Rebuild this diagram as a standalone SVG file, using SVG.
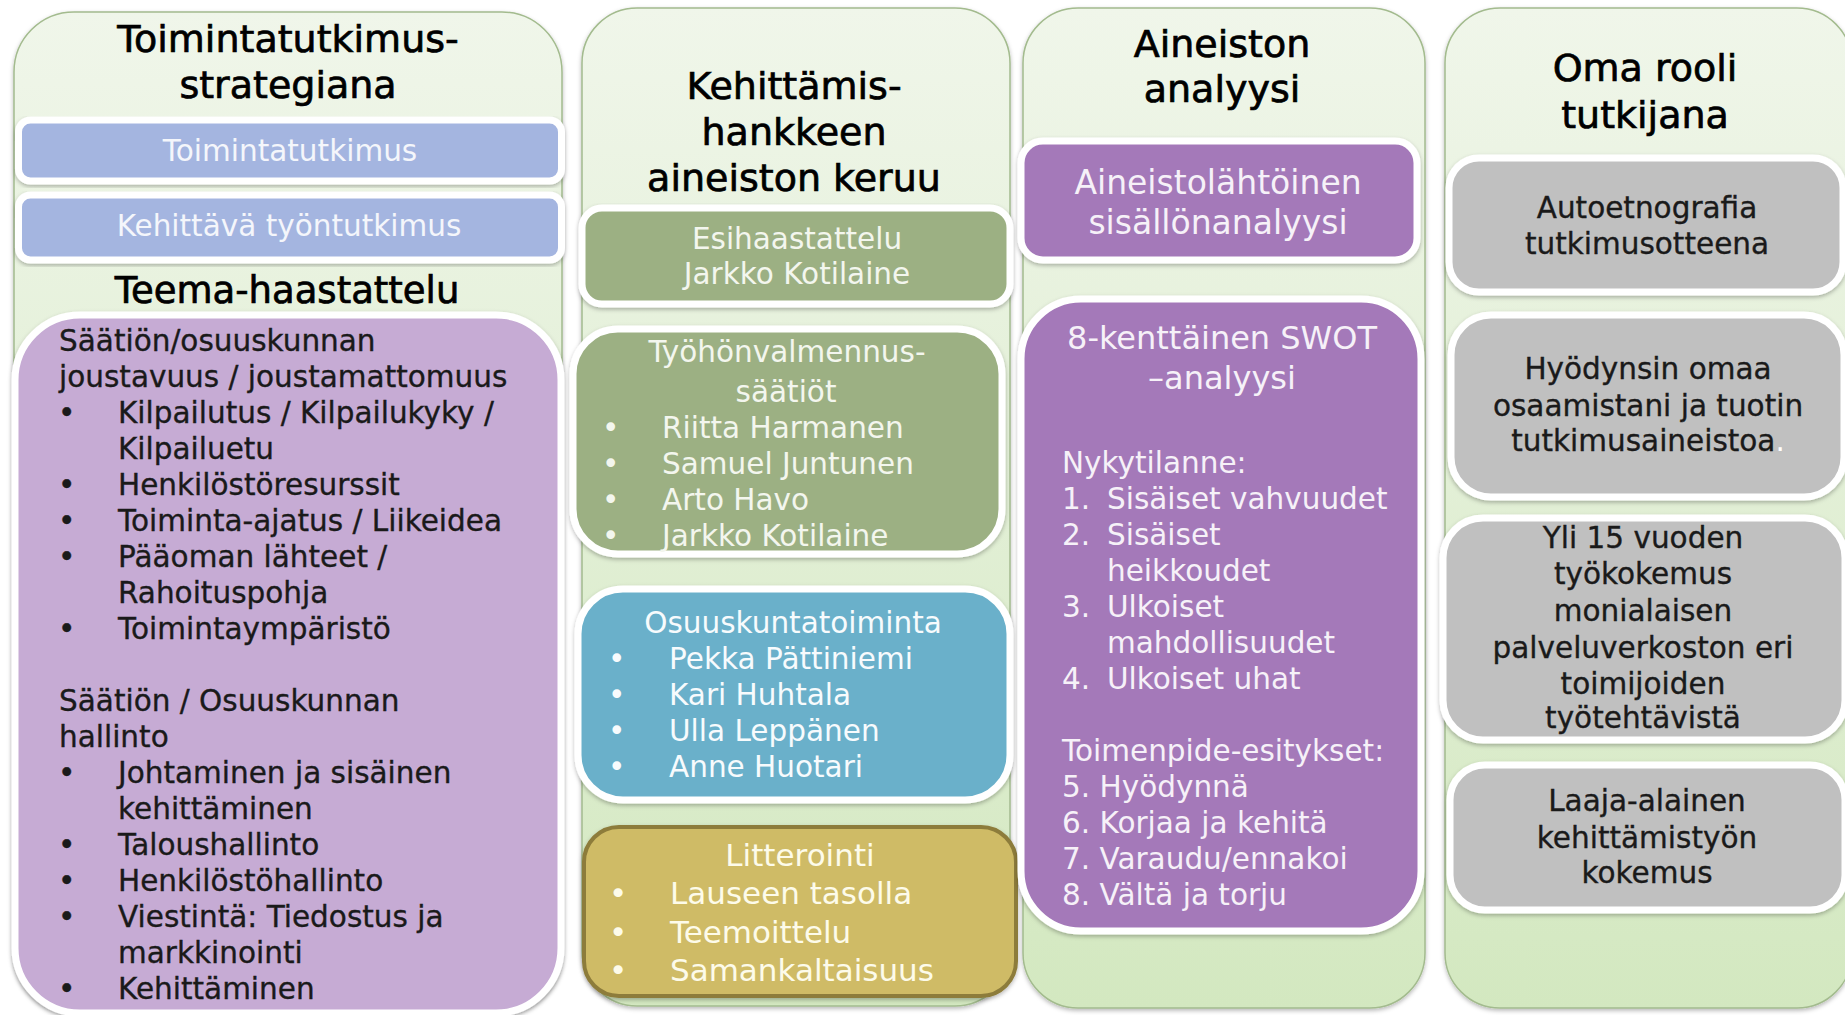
<svg xmlns="http://www.w3.org/2000/svg" width="1845" height="1015" viewBox="0 0 1845 1015">
<defs>
<linearGradient id="colGrad" x1="0" y1="0" x2="0" y2="1">
<stop offset="0" stop-color="#f0f6ea"/>
<stop offset="1" stop-color="#d3e8c0"/>
</linearGradient>
<filter id="sh" x="-5%" y="-5%" width="110%" height="115%">
<feDropShadow dx="0" dy="2" stdDeviation="2" flood-color="#000" flood-opacity="0.28"/>
</filter>
<style>
.col{fill:url(#colGrad);stroke:#a3bb8e;stroke-width:1.5;filter:url(#sh)}
.box{stroke:#ffffff;stroke-width:7;filter:url(#sh)}
text{font-family:"DejaVu Sans","Liberation Sans",sans-serif}
.title{font-size:38px;fill:#000;text-anchor:middle;stroke:#000;stroke-width:0.7}
.t{font-size:29.5px}
.c{text-anchor:middle}
.dark{fill:#1a1a1a;stroke:#1a1a1a;stroke-width:0.35}
.light{fill:#f4f6fb}
</style>
</defs>
<rect width="1845" height="1015" fill="#ffffff"/>

<g id="column1">
<rect class="col" x="14" y="12" width="548" height="1000" rx="60"/>
<text class="title" x="288" y="52">Toimintatutkimus-</text>
<text class="title" x="288" y="98">strategiana</text>
</g>
<g id="toimintatutkimus">
<rect class="box" x="18.5" y="120" width="543" height="61" rx="12" fill="#a4b5e0"/>
<text class="t c light" x="290" y="161">Toimintatutkimus</text>
</g>
<g id="kehittava-tyontutkimus">
<rect class="box" x="18.5" y="195" width="543" height="65" rx="12" fill="#a4b5e0"/>
<text class="t c light" x="289" y="236">Kehittävä työntutkimus</text>
</g>
<g id="teema-haastattelu-title">
<text class="title" x="287" y="303" style="font-size:37px">Teema-haastattelu</text>
</g>
<g id="teema-haastattelu">
<rect class="box" x="15" y="315" width="546" height="698" rx="65" fill="#c6abd4"/>
<g class="t dark">
<text x="59" y="351">Säätiön/osuuskunnan</text>
<text x="59" y="387">joustavuus / joustamattomuus</text>
<text x="58" y="423">•</text><text x="118" y="423">Kilpailutus / Kilpailukyky /</text>
<text x="118" y="459">Kilpailuetu</text>
<text x="58" y="495">•</text><text x="118" y="495">Henkilöstöresurssit</text>
<text x="58" y="531">•</text><text x="118" y="531">Toiminta-ajatus / Liikeidea</text>
<text x="58" y="567">•</text><text x="118" y="567">Pääoman lähteet /</text>
<text x="118" y="603">Rahoituspohja</text>
<text x="58" y="639">•</text><text x="118" y="639">Toimintaympäristö</text>
<text x="59" y="711">Säätiön / Osuuskunnan</text>
<text x="59" y="747">hallinto</text>
<text x="58" y="783">•</text><text x="118" y="783">Johtaminen ja sisäinen</text>
<text x="118" y="819">kehittäminen</text>
<text x="58" y="855">•</text><text x="118" y="855">Taloushallinto</text>
<text x="58" y="891">•</text><text x="118" y="891">Henkilöstöhallinto</text>
<text x="58" y="927">•</text><text x="118" y="927">Viestintä: Tiedostus ja</text>
<text x="118" y="963">markkinointi</text>
<text x="58" y="999">•</text><text x="118" y="999">Kehittäminen</text>
</g>
</g>

<g id="column2">
<rect class="col" x="582" y="8" width="428" height="998" rx="55"/>
<text class="title" x="794" y="99">Kehittämis-</text>
<text class="title" x="794" y="145">hankkeen</text>
<text class="title" x="794" y="191">aineiston keruu</text>
</g>
<g id="esihaastattelu">
<rect class="box" x="582" y="208" width="428" height="96" rx="20" fill="#9cb083"/>
<text class="t c" x="797" y="249" fill="#f3f6ee">Esihaastattelu</text>
<text class="t c" x="797" y="284" fill="#f3f6ee">Jarkko Kotilaine</text>
</g>
<g id="tyohonvalmennus">
<rect class="box" x="573" y="329" width="429" height="225" rx="45" fill="#9cb083"/>
<g class="t" fill="#f3f6ee">
<text class="c" x="787" y="362">Työhönvalmennus-</text>
<text class="c" x="786" y="402">säätiöt</text>
<text x="602" y="438">•</text><text x="662" y="438">Riitta Harmanen</text>
<text x="602" y="474">•</text><text x="662" y="474">Samuel Juntunen</text>
<text x="602" y="510">•</text><text x="662" y="510">Arto Havo</text>
<text x="602" y="546">•</text><text x="662" y="546">Jarkko Kotilaine</text>
</g>
</g>
<g id="osuuskuntatoiminta">
<rect class="box" x="578" y="589" width="432" height="211" rx="45" fill="#6ab0ca"/>
<g class="t" fill="#f7fbfd">
<text class="c" x="793" y="633">Osuuskuntatoiminta</text>
<text x="608" y="669">•</text><text x="669" y="669">Pekka Pättiniemi</text>
<text x="608" y="705">•</text><text x="669" y="705">Kari Huhtala</text>
<text x="608" y="741">•</text><text x="669" y="741">Ulla Leppänen</text>
<text x="608" y="777">•</text><text x="669" y="777">Anne Huotari</text>
</g>
</g>
<g id="litterointi">
<rect x="584" y="827" width="432" height="169" rx="35" fill="#cfbb66" stroke="#8d7c3a" stroke-width="4" filter="url(#sh)"/>
<g style="font-size:31px" fill="#fdfbea">
<text class="c" x="800" y="866">Litterointi</text>
<text x="609" y="904">•</text><text x="670" y="904">Lauseen tasolla</text>
<text x="609" y="943">•</text><text x="670" y="943">Teemoittelu</text>
<text x="609" y="981">•</text><text x="670" y="981">Samankaltaisuus</text>
</g>
</g>

<g id="column3">
<rect class="col" x="1023" y="8" width="402" height="1000" rx="55"/>
<text class="title" x="1222" y="57">Aineiston</text>
<text class="title" x="1222" y="102">analyysi</text>
</g>
<g id="sisallonanalyysi">
<rect class="box" x="1021" y="141" width="396" height="119" rx="22" fill="#a479b9"/>
<text class="c" x="1218" y="194" style="font-size:33px" fill="#f6f1f8">Aineistolähtöinen</text>
<text class="c" x="1218" y="234" style="font-size:33px" fill="#f6f1f8">sisällönanalyysi</text>
</g>
<g id="swot">
<rect class="box" x="1021" y="299" width="400" height="632" rx="60" fill="#a479b9"/>
<text class="c" x="1222" y="349" style="font-size:32px" fill="#f6f1f8">8-kenttäinen SWOT</text>
<text class="c" x="1222" y="389" style="font-size:32px" fill="#f6f1f8">–analyysi</text>
<g class="t" fill="#f6f1f8">
<text x="1062" y="473">Nykytilanne:</text>
<text x="1062" y="509">1.</text><text x="1107" y="509">Sisäiset vahvuudet</text>
<text x="1062" y="545">2.</text><text x="1107" y="545">Sisäiset</text>
<text x="1107" y="581">heikkoudet</text>
<text x="1062" y="617">3.</text><text x="1107" y="617">Ulkoiset</text>
<text x="1107" y="653">mahdollisuudet</text>
<text x="1062" y="689">4.</text><text x="1107" y="689">Ulkoiset uhat</text>
<text x="1062" y="761">Toimenpide-esitykset:</text>
<text x="1062" y="797">5. Hyödynnä</text>
<text x="1062" y="833">6. Korjaa ja kehitä</text>
<text x="1062" y="869">7. Varaudu/ennakoi</text>
<text x="1062" y="905">8. Vältä ja torju</text>
</g>
</g>

<g id="column4">
<rect class="col" x="1445" y="8" width="407" height="1000" rx="55"/>
<text class="title" x="1645" y="81">Oma rooli</text>
<text class="title" x="1645" y="128">tutkijana</text>
</g>
<g id="autoetnografia">
<rect class="box" x="1449" y="158" width="394" height="134" rx="30" fill="#c0c0c0"/>
<text class="t c dark" x="1647" y="218">Autoetnografia</text>
<text class="t c dark" x="1647" y="254">tutkimusotteena</text>
</g>
<g id="hyodynsin">
<rect class="box" x="1451" y="315" width="393" height="182" rx="40" fill="#c0c0c0"/>
<text class="t c dark" x="1648" y="379">Hyödynsin omaa</text>
<text class="t c dark" x="1648" y="416">osaamistani ja tuotin</text>
<text class="t c dark" x="1648" y="451">tutkimusaineistoa<tspan fill="#ffffff" stroke="none">.</tspan></text>
</g>
<g id="tyokokemus">
<rect class="box" x="1443" y="518" width="402" height="222" rx="40" fill="#c0c0c0"/>
<text class="t c dark" x="1643" y="548">Yli 15 vuoden</text>
<text class="t c dark" x="1643" y="584">työkokemus</text>
<text class="t c dark" x="1643" y="621">monialaisen</text>
<text class="t c dark" x="1643" y="658">palveluverkoston eri</text>
<text class="t c dark" x="1643" y="694">toimijoiden</text>
<text class="t c dark" x="1643" y="728">työtehtävistä</text>
</g>
<g id="kehittamistyo">
<rect class="box" x="1450" y="765" width="395" height="145" rx="35" fill="#c0c0c0"/>
<text class="t c dark" x="1647" y="811">Laaja-alainen</text>
<text class="t c dark" x="1647" y="848">kehittämistyön</text>
<text class="t c dark" x="1647" y="883">kokemus</text>
</g>

<g id="connectors"/>
</svg>
